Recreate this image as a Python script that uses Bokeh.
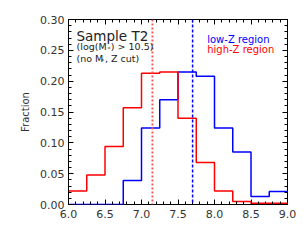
from bokeh.plotting import figure
from bokeh.models import Label, LinearAxis, SingleIntervalTicker, Span, NumeralTickFormatter
from bokeh.embed import file_html
from bokeh.resources import INLINE

# bin edges of log M_BH
edges = [6.0, 6.25, 6.5, 6.75, 7.0, 7.25, 7.5, 7.75, 8.0, 8.25, 8.5, 8.75, 9.0]
high_z = [0.022, 0.048, 0.094, 0.157, 0.213, 0.215, 0.140, 0.068, 0.022, 0.005, 0.002, 0.002]
low_z = [0.0, 0.0, 0.0, 0.039, 0.124, 0.170, 0.215, 0.208, 0.124, 0.085, 0.013, 0.021]
median_high = 7.15
median_low = 7.70
x_ticks_interval = 0.5
y_ticks_interval = 0.05

FONT = "DejaVu Sans"

p = figure(width=307, height=242, x_range=(6.0, 9.0), y_range=(0.0, 0.3001),
           output_backend="svg", toolbar_location=None,
           min_border_left=68, min_border_right=20, min_border_top=19, min_border_bottom=38)
p.grid.visible = False
p.outline_line_color = "black"
p.outline_line_width = 1
p.background_fill_color = "white"
p.border_fill_color = "white"

def style_axis(ax, ticker, labels=True, fmt=None):
    ax.ticker = ticker
    ax.major_tick_in = 5
    ax.major_tick_out = 0
    ax.minor_tick_in = 3
    ax.minor_tick_out = 0
    ax.axis_line_color = None
    ax.major_tick_line_color = "black"
    ax.minor_tick_line_color = "black"
    if labels:
        ax.major_label_text_font = FONT
        ax.major_label_text_font_size = "11px"
        ax.major_label_text_color = "#333333"
        if fmt:
            ax.formatter = NumeralTickFormatter(format=fmt)
    else:
        ax.major_label_text_font_size = "0px"
        ax.major_label_text_color = None

xt = lambda: SingleIntervalTicker(interval=x_ticks_interval, num_minor_ticks=5)
yt = lambda: SingleIntervalTicker(interval=y_ticks_interval, num_minor_ticks=5)

style_axis(p.xaxis[0], xt(), True, "0.0")
style_axis(p.yaxis[0], yt(), True, "0.00")
p.xaxis[0].major_label_standoff = 5
p.yaxis[0].major_label_standoff = 4
p.yaxis[0].axis_label = "Fraction"
p.yaxis[0].axis_label_text_font = FONT
p.yaxis[0].axis_label_text_font_size = "10px"
p.yaxis[0].axis_label_text_font_style = "normal"
p.yaxis[0].axis_label_text_color = "#333333"
p.yaxis[0].axis_label_standoff = 6

ax_r = LinearAxis()
style_axis(ax_r, yt(), False)
p.add_layout(ax_r, "right")
ax_t = LinearAxis()
style_axis(ax_t, xt(), False)
p.add_layout(ax_t, "above")

# histograms
p.step(x=edges, y=low_z + [low_z[-1]], mode="after", line_color="#0000ff", line_width=1.5)
p.step(x=edges, y=high_z + [high_z[-1]], mode="after", line_color="#ff0000", line_width=1.5)

p.add_layout(Span(location=median_high, dimension="height", line_color="#ff5a5a",
                  line_width=2, line_dash="2 2"))
p.add_layout(Span(location=median_low, dimension="height", line_color="#0000ff",
                  line_width=1.5, line_dash="3 2"))

def lab(x, y, text, size, color="#222222", **kw):
    p.add_layout(Label(x=x, y=y, text=text, text_font=FONT, text_font_size=size,
                       text_color=color, text_baseline="alphabetic", **kw))

lab(6.11, 0.274, "Sample T2", "13.5px")
lab(6.11, 0.2557, "(log(M", "9.5px")
lab(6.534, 0.2530, "*", "6px")
lab(6.58, 0.2557, ") > 10.5)", "9.5px")
lab(6.11, 0.2362, "(no M", "9.5px")
lab(6.45, 0.2335, "*", "6px")
lab(6.50, 0.2362, ", Z cut)", "9.5px")

lab(7.90, 0.268, "low-Z region", "10px", color="#0000ff")
lab(7.90, 0.252, "high-Z region", "10px", color="#ff0000")

# x-axis label: M_BH [M_sun]
lab(7.168, -0.045, "M", "11px", color="#333333")
lab(7.30, -0.047, "BH", "7px", color="#333333")
lab(7.39, -0.045, "[M", "11px", color="#333333")
lab(7.66, -0.047, "\u2299", "7px", color="#333333")
lab(7.77, -0.045, "]", "11px", color="#333333")

open("out.html", "w").write(file_html(p, INLINE))
